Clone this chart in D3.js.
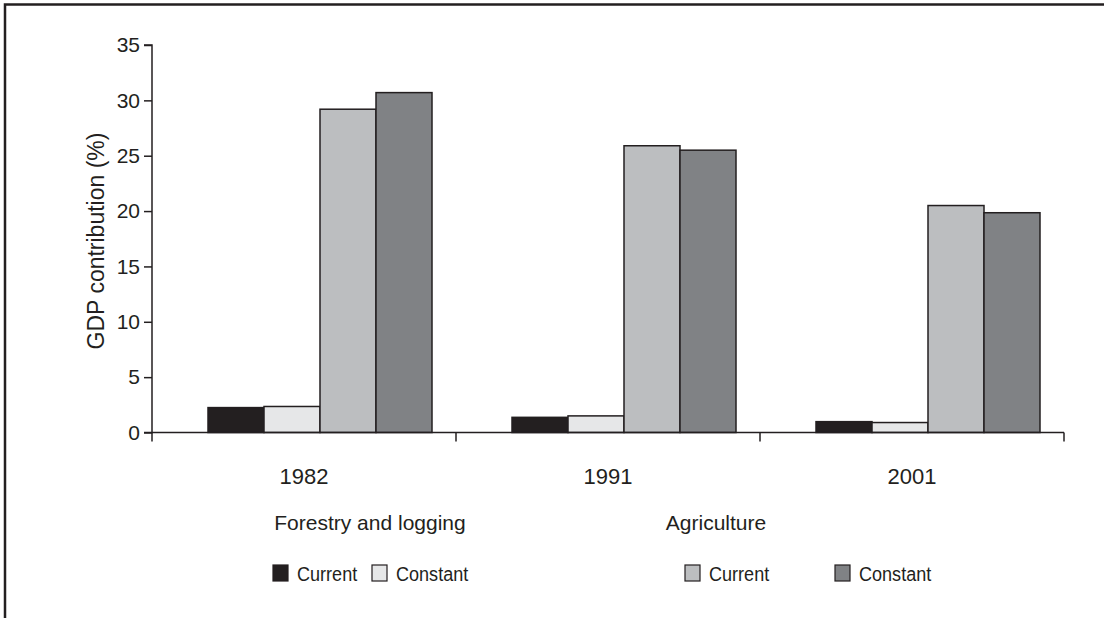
<!DOCTYPE html>
<html>
<head>
<meta charset="utf-8">
<script src="https://cdn.jsdelivr.net/npm/d3@7"></script>
<style>
  html, body { margin: 0; padding: 0; background: #fff; }
  svg text { font-family: "Liberation Sans", Arial, sans-serif; fill: #231f20; }
</style>
</head>
<body>
<svg id="chart" width="1104" height="618"></svg>
<script>
const years = ["1982", "1991", "2001"];
const seriesNames = ["Forestry Current", "Forestry Constant", "Agriculture Current", "Agriculture Constant"];
const forestryCurrent = [2.25, 1.37, 0.98];
const forestryConstant = [2.35, 1.5, 0.9];
const agricultureCurrent = [29.2, 25.9, 20.5];
const agricultureConstant = [30.7, 25.5, 19.85];
const yTicks = [0, 5, 10, 15, 20, 25, 30, 35];
const legendGroups = ["Forestry and logging", "Agriculture"];
const legendLabels = ["Current", "Constant", "Current", "Constant"];
const colors = ["#231f20", "#e6e7e8", "#bcbec0", "#808285"];

const seriesValues = [forestryCurrent, forestryConstant, agricultureCurrent, agricultureConstant];

const svg = d3.select("#chart");
const ink = "#231f20";
const fs = 21;

// frame (top and left edges)
svg.append("path")
  .attr("d", "M5,618 V4.5 H1104")
  .attr("fill", "none").attr("stroke", ink).attr("stroke-width", 2.5);

const plotLeft = 152, plotRight = 1064, plotTop = 45, plotBottom = 432.5;

const y = d3.scaleLinear().domain([0, 35]).range([plotBottom, plotTop]);
const x0 = d3.scaleBand().domain(years).range([plotLeft, plotRight]).padding(0);
const bw = x0.bandwidth();
const x1 = d3.scaleBand().domain(seriesNames).range([bw * 56 / 304, bw * 280 / 304]).padding(0);

// bars
years.forEach((yr, i) => {
  seriesNames.forEach((s, j) => {
    const v = seriesValues[j][i];
    svg.append("rect")
      .attr("x", x0(yr) + x1(s))
      .attr("y", y(v))
      .attr("width", x1.bandwidth())
      .attr("height", y(0) - y(v))
      .attr("fill", colors[j])
      .attr("stroke", ink)
      .attr("stroke-width", 1.5);
  });
});

// y axis
const yAxis = d3.axisLeft(y).tickValues(yTicks).tickSize(8).tickPadding(4);
const gy = svg.append("g").attr("transform", `translate(${plotLeft},0)`).call(yAxis);
gy.select(".domain").attr("stroke", ink).attr("stroke-width", 1.5).attr("d", `M-8,${plotTop}H0V${plotBottom}H-8`);
gy.selectAll(".tick line").attr("stroke", ink).attr("stroke-width", 1.5);
gy.selectAll(".tick text").attr("font-size", fs).attr("font-family", "Liberation Sans, Arial, sans-serif").attr("fill", ink);

// x axis: category boundary ticks
const gx = svg.append("g");
gx.append("line").attr("x1", plotLeft).attr("x2", plotRight).attr("y1", plotBottom).attr("y2", plotBottom)
  .attr("stroke", ink).attr("stroke-width", 1.5);
const boundaries = years.map(d => x0(d)).concat([plotRight]);
gx.selectAll(".bt").data(boundaries).enter().append("line")
  .attr("x1", d => d).attr("x2", d => d).attr("y1", plotBottom).attr("y2", plotBottom + 9)
  .attr("stroke", ink).attr("stroke-width", 1.5);
gx.selectAll(".yl").data(years).enter().append("text")
  .attr("x", d => x0(d) + bw / 2).attr("y", 484)
  .attr("text-anchor", "middle").attr("font-size", 22).text(d => d);

// y axis title
svg.append("text")
  .attr("transform", "translate(104,241) rotate(-90)")
  .attr("text-anchor", "middle").attr("font-size", 23)
  .text("GDP contribution (%)");

// legend
const groupCenters = [370, 716];
legendGroups.forEach((g, i) => {
  svg.append("text").attr("x", groupCenters[i]).attr("y", 530)
    .attr("text-anchor", "middle").attr("font-size", fs).text(g);
});
const legendX = [273, 372, 685, 835];
legendLabels.forEach((lab, i) => {
  svg.append("rect").attr("x", legendX[i]).attr("y", 565).attr("width", 15).attr("height", 16)
    .attr("fill", colors[i]).attr("stroke", ink).attr("stroke-width", 1.2);
  svg.append("text")
    .attr("transform", `translate(${legendX[i] + 24},581) scale(0.86,1)`)
    .attr("font-size", fs).text(lab);
});
</script>
</body>
</html>
